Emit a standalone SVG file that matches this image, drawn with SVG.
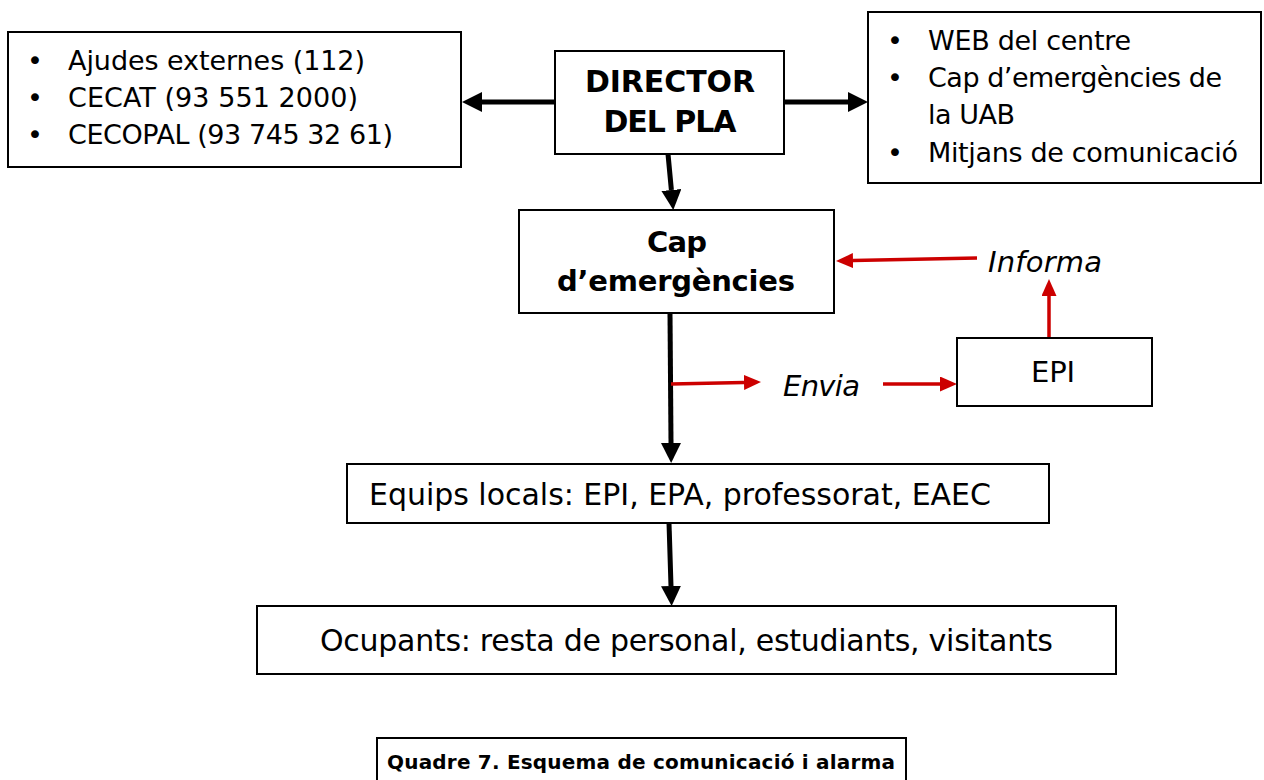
<svg xmlns="http://www.w3.org/2000/svg" width="1264" height="780" viewBox="0 0 1264 780">
<style>
.box{fill:#fff;stroke:#000;stroke-width:2}
.t{font-family:"DejaVu Sans","Liberation Sans",sans-serif;font-size:27px;fill:#000}
.m{font-size:29px}
.l{font-size:30px}
.c{font-size:20px}
.b{font-weight:bold}
.i{font-style:italic}
.blk{stroke:#000;stroke-width:5;fill:none}
.red{stroke:#cc0000;stroke-width:3.5;fill:none}
</style>
<defs>
<marker id="ab" viewBox="0 0 20 20" markerWidth="20" markerHeight="20" refX="0" refY="10" markerUnits="userSpaceOnUse" orient="auto"><path d="M0,0 L20,10 L0,20 z" fill="#000"/></marker>
<marker id="ar" viewBox="0 0 17 15" markerWidth="17" markerHeight="15" refX="0" refY="7.5" markerUnits="userSpaceOnUse" orient="auto"><path d="M0,0 L17,7.5 L0,15 z" fill="#cc0000"/></marker>
</defs>
<rect width="1264" height="780" fill="#fff"/>
<g id="connectors">
<line class="blk" x1="555" y1="102" x2="482" y2="102" marker-end="url(#ab)"/>
<line class="blk" x1="784" y1="102" x2="848" y2="102" marker-end="url(#ab)"/>
<line class="blk" x1="668" y1="154" x2="671.4" y2="190" marker-end="url(#ab)"/>
<line class="blk" x1="670" y1="313" x2="671" y2="443" marker-end="url(#ab)"/>
<line class="blk" x1="669" y1="523" x2="671" y2="586" marker-end="url(#ab)"/>
<line class="red" x1="977" y1="258" x2="853" y2="260.6" marker-end="url(#ar)"/>
<line class="red" x1="671" y1="384" x2="744" y2="382.4" marker-end="url(#ar)"/>
<line class="red" x1="883" y1="384" x2="940" y2="384" marker-end="url(#ar)"/>
<line class="red" x1="1049" y1="338" x2="1049" y2="296" marker-end="url(#ar)"/>
</g>
<g id="ajudes">
<rect class="box" x="8" y="32" width="453" height="135"/>
<text class="t" x="27" y="70">•</text><text class="t" x="68" y="70" textLength="297">Ajudes externes (112)</text>
<text class="t" x="27" y="107">•</text><text class="t" x="68" y="107" textLength="290">CECAT (93 551 2000)</text>
<text class="t" x="27" y="144">•</text><text class="t" x="68" y="144" textLength="325">CECOPAL (93 745 32 61)</text>
</g>
<g id="director">
<rect class="box" x="555" y="51" width="229" height="103"/>
<text class="t b l" x="670" y="92" text-anchor="middle" textLength="170">DIRECTOR</text>
<text class="t b l" x="670" y="132" text-anchor="middle" textLength="133">DEL PLA</text>
</g>
<g id="mitjans">
<rect class="box" x="868" y="12" width="393" height="171"/>
<text class="t" x="887" y="50">•</text><text class="t" x="928" y="50" textLength="203">WEB del centre</text>
<text class="t" x="887" y="87">•</text><text class="t" x="928" y="87" textLength="294">Cap d’emergències de</text>
<text class="t" x="928" y="124" textLength="87">la UAB</text>
<text class="t" x="887" y="162">•</text><text class="t" x="928" y="162" textLength="310">Mitjans de comunicació</text>
</g>
<g id="cap">
<rect class="box" x="519" y="210" width="315" height="103"/>
<text class="t b m" x="677" y="252" text-anchor="middle" textLength="60">Cap</text>
<text class="t b m" x="676" y="291" text-anchor="middle" textLength="238">d’emergències</text>
</g>
<g id="informa"><text class="t i m" x="988" y="272" textLength="114">Informa</text></g>
<g id="envia"><text class="t i m" x="783" y="396" textLength="77">Envia</text></g>
<g id="epi">
<rect class="box" x="957" y="338" width="195" height="68"/>
<text class="t m" x="1031" y="382" textLength="44">EPI</text>
</g>
<g id="equips">
<rect class="box" x="347" y="464" width="702" height="59"/>
<text class="t l" x="369" y="505" textLength="622">Equips locals: EPI, EPA, professorat, EAEC</text>
</g>
<g id="ocupants">
<rect class="box" x="257" y="606" width="859" height="68"/>
<text class="t l" x="320" y="651" textLength="733">Ocupants: resta de personal, estudiants, visitants</text>
</g>
<g id="caption">
<rect class="box" x="377" y="738" width="529" height="60"/>
<text class="t b c" x="387" y="769" textLength="508">Quadre 7. Esquema de comunicació i alarma</text>
</g>
</svg>
